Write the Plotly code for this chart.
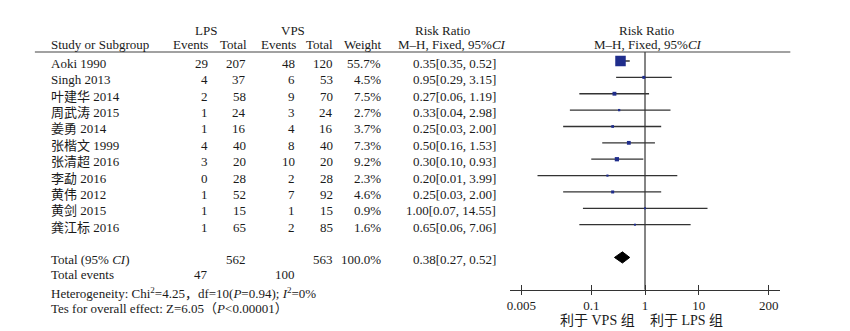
import math
import plotly.graph_objects as go

studies = ["Aoki 1990", "Singh 2013", "叶建华 2014", "周武涛 2015", "姜勇 2014", "张楷文 1999",
           "张清超 2016", "李勐 2016", "黄伟 2012", "黄剑 2015", "龚江标 2016"]
lps_events = [29, 4, 2, 1, 1, 4, 3, 0, 1, 1, 1]
lps_total = [207, 37, 58, 24, 16, 40, 20, 28, 52, 15, 65]
vps_events = [48, 6, 9, 3, 4, 8, 10, 2, 7, 1, 2]
vps_total = [120, 53, 70, 24, 16, 40, 20, 28, 92, 15, 85]
weight = [55.7, 4.5, 7.5, 2.7, 3.7, 7.3, 9.2, 2.3, 4.6, 0.9, 1.6]
rr = [0.35, 0.95, 0.27, 0.33, 0.25, 0.50, 0.30, 0.20, 0.25, 1.00, 0.65]
rr_lo = [0.35, 0.29, 0.06, 0.04, 0.03, 0.16, 0.10, 0.01, 0.03, 0.07, 0.06]
rr_hi = [0.52, 3.15, 1.19, 2.98, 2.00, 1.53, 0.93, 3.99, 2.00, 14.55, 7.06]

total_lps_n = 562
total_vps_n = 563
total_weight = 100.0
total_lps_events = 47
total_vps_events = 100
total_rr, total_lo, total_hi = 0.38, 0.27, 0.52

tick_vals = [0.005, 0.1, 1, 10, 200]
tick_text = ["0.005", "0.1", "1", "10", "200"]

W, H = 850, 331
FONT = "Liberation Serif, Noto Sans CJK SC, serif"
TXT = "#1a1a1a"
BLUE = "#1f2d8c"
LINE = "#333333"

rows = list(range(len(studies)))
total_row = len(studies) + 1
events_row = total_row + 0.88
TEXT_DY = 0.15


def px(x):
    return x / W


def py(y):
    return 1 - y / H


fig = go.Figure()

# study estimates with CIs
fig.add_trace(go.Scatter(
    x=rr, y=rows, mode="markers",
    marker=dict(symbol="square", color=BLUE, opacity=1,
                size=[max(2.0, 10.5 * math.sqrt(w / weight[0])) for w in weight],
                line=dict(width=0)),
    error_x=dict(type="data", symmetric=False,
                 array=[h - r for h, r in zip(rr_hi, rr)],
                 arrayminus=[r - l for r, l in zip(rr, rr_lo)],
                 width=0, thickness=1.3, color=LINE),
    showlegend=False, hoverinfo="skip", cliponaxis=False))

# pooled diamond
fig.add_trace(go.Scatter(
    x=[total_lo, total_rr, total_hi, total_rr, total_lo],
    y=[total_row, total_row - 0.34, total_row, total_row + 0.34, total_row],
    mode="lines", fill="toself", fillcolor="black", line=dict(color="black", width=1),
    showlegend=False, hoverinfo="skip"))

# dummy trace for the inner tick overlay axis
fig.add_trace(go.Scatter(x=[1], y=[0], xaxis="x2", mode="markers",
                         marker=dict(opacity=0), showlegend=False, hoverinfo="skip"))

annotations = []


def txt(x, y, text, anchor="right", yref="paper", size=13):
    annotations.append(dict(
        x=px(x), xref="paper", y=(py(y) if yref == "paper" else y + TEXT_DY), yref=yref,
        text=text, showarrow=False, xanchor=anchor, yanchor="middle",
        font=dict(family=FONT, size=size, color=TXT)))


# headers
txt(195, 23, "LPS", "center")
txt(282, 23, "VPS", "center")
txt(433, 23, "Risk Ratio", "center")
txt(442, 37, "M–H, Fixed, 95%<i>CI</i>", "center")
txt(638, 23, "Risk Ratio", "center")
txt(639, 37, "M–H, Fixed, 95%<i>CI</i>", "center")
txt(37, 37, "Study or Subgroup", "left")
txt(199, 37, "Events")
txt(238, 37, "Total")
txt(287, 37, "Events")
txt(325, 37, "Total")
txt(374, 37, "Weight")

# study rows
for i, s in enumerate(studies):
    txt(37, i, s, "left", "y")
    txt(199, i, str(lps_events[i]), yref="y")
    txt(237, i, str(lps_total[i]), yref="y")
    txt(286, i, str(vps_events[i]), yref="y")
    txt(325, i, str(vps_total[i]), yref="y")
    txt(373, i, f"{weight[i]:.1f}%", yref="y")
    txt(488, i, f"{rr[i]:.2f}[{rr_lo[i]:.2f}, {rr_hi[i]:.2f}]", yref="y")

# totals
txt(37, total_row, "Total (95% <i>CI</i>)", "left", "y")
txt(237, total_row, str(total_lps_n), yref="y")
txt(325, total_row, str(total_vps_n), yref="y")
txt(373, total_row, f"{total_weight:.1f}%", yref="y")
txt(488, total_row, f"{total_rr:.2f}[{total_lo:.2f}, {total_hi:.2f}]", yref="y")
txt(37, events_row, "Total events", "left", "y")
txt(199, events_row, str(total_lps_events), yref="y")
txt(286, events_row, str(total_vps_events), yref="y")
txt(37, 284.5, "Heterogeneity: Chi<sup>2</sup>=4.25，df=10(<i>P</i>=0.94); <i>I</i><sup>2</sup>=0%", "left")
txt(37, 300.5, "Tes for overall effect: Z=6.05（<i>P</i>&lt;0.00001）", "left")

# favours labels
txt(628, 312, "利于 VPS 组", "right", size=14)
txt(639, 312, "利于 LPS 组", "left", size=14)

x_lo = (500.7 - 636) / 54.0
x_hi = (771.7 - 636) / 54.0
dom = [px(500.7), px(771.7)]
ydom = [py(281.7), py(44)]
y_top = (44 - 53) / 16.37
y_bot = (281.7 - 53) / 16.37

fig.update_layout(
    width=W, height=H, margin=dict(l=0, r=0, t=0, b=0),
    paper_bgcolor="white", plot_bgcolor="white",
    font=dict(family=FONT, size=13, color=TXT),
    xaxis=dict(type="log", range=[x_lo, x_hi], domain=dom, anchor="y",
               tickvals=tick_vals, ticktext=tick_text, ticks="outside", ticklen=4,
               tickwidth=1.3, tickcolor=LINE, showline=True, linecolor=LINE, linewidth=1.3,
               showgrid=False, zeroline=False, tickfont=dict(size=13, color=TXT)),
    xaxis2=dict(type="log", overlaying="x", matches="x", range=[x_lo, x_hi], domain=dom,
                anchor="y", side="bottom", tickvals=tick_vals, ticks="inside", ticklen=5,
                tickwidth=1.3, tickcolor=LINE, showticklabels=False, showline=False,
                showgrid=False, zeroline=False),
    yaxis=dict(range=[y_bot, y_top], domain=ydom, visible=False, showgrid=False, zeroline=False),
    shapes=[
        dict(type="line", xref="x", x0=1, x1=1, yref="y domain", y0=0, y1=1,
             line=dict(color=LINE, width=1.2), layer="below"),
        dict(type="line", xref="paper", x0=px(23), x1=px(782), yref="paper",
             y0=py(44), y1=py(44), line=dict(color="#444444", width=1.2)),
    ],
    annotations=annotations,
)

fig.write_html("out.html")
